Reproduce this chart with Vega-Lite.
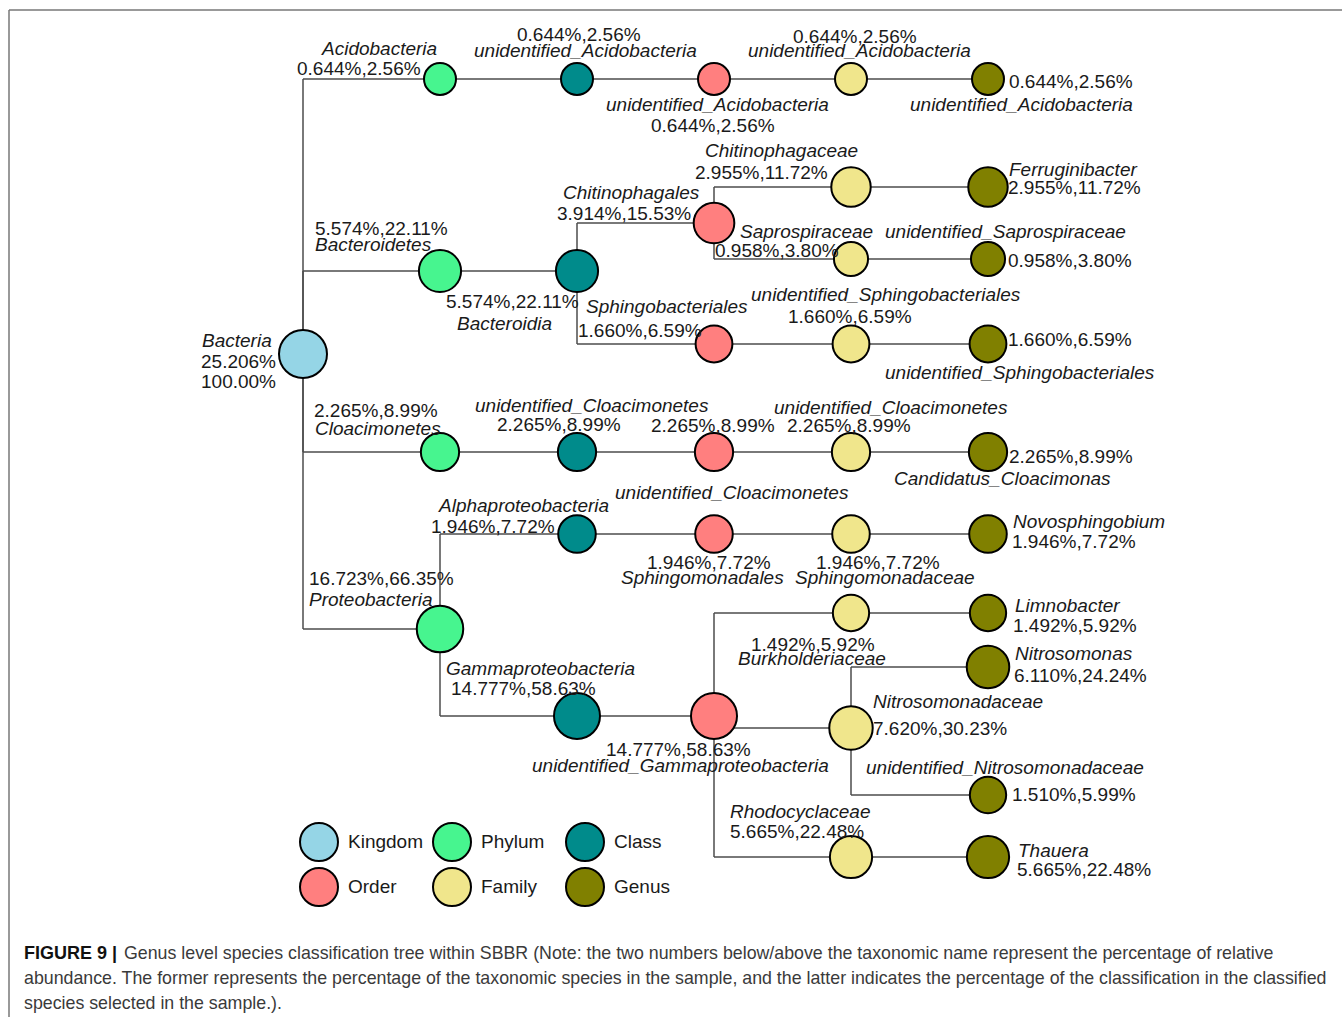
{
  "$schema": "https://vega.github.io/schema/vega-lite/v6.json",
  "width": 1342,
  "height": 1017,
  "padding": 0,
  "autosize": {"type": "none"},
  "background": "white",
  "config": {"view": {"stroke": null}, "font": "Liberation Sans"},
  "datasets": {
    "nodes": [
      {"id": "B", "name": "Bacteria", "rank": "Kingdom", "parent": null, "x": 303, "y": 354, "a": 25.206},
      {"id": "P1", "name": "Acidobacteria", "rank": "Phylum", "parent": "B", "x": 440, "y": 79, "a": 0.644},
      {"id": "C1", "name": "unidentified_Acidobacteria", "rank": "Class", "parent": "P1", "x": 577, "y": 79, "a": 0.644},
      {"id": "O1", "name": "unidentified_Acidobacteria", "rank": "Order", "parent": "C1", "x": 714, "y": 79, "a": 0.644},
      {"id": "F1", "name": "unidentified_Acidobacteria", "rank": "Family", "parent": "O1", "x": 851, "y": 79, "a": 0.644},
      {"id": "G1", "name": "unidentified_Acidobacteria", "rank": "Genus", "parent": "F1", "x": 988, "y": 79, "a": 0.644},
      {"id": "P2", "name": "Bacteroidetes", "rank": "Phylum", "parent": "B", "x": 440, "y": 271, "a": 5.574},
      {"id": "C2", "name": "Bacteroidia", "rank": "Class", "parent": "P2", "x": 577, "y": 271, "a": 5.574},
      {"id": "O2", "name": "Chitinophagales", "rank": "Order", "parent": "C2", "x": 714, "y": 223, "a": 3.914},
      {"id": "F2", "name": "Chitinophagaceae", "rank": "Family", "parent": "O2", "x": 851, "y": 187, "a": 2.955},
      {"id": "G2", "name": "Ferruginibacter", "rank": "Genus", "parent": "F2", "x": 988, "y": 187, "a": 2.955},
      {"id": "F3", "name": "Saprospiraceae", "rank": "Family", "parent": "O2", "x": 851, "y": 259, "a": 0.958},
      {"id": "G3", "name": "unidentified_Saprospiraceae", "rank": "Genus", "parent": "F3", "x": 988, "y": 259, "a": 0.958},
      {"id": "O3", "name": "Sphingobacteriales", "rank": "Order", "parent": "C2", "x": 714, "y": 344, "a": 1.66},
      {"id": "F4", "name": "unidentified_Sphingobacteriales", "rank": "Family", "parent": "O3", "x": 851, "y": 344, "a": 1.66},
      {"id": "G4", "name": "unidentified_Sphingobacteriales", "rank": "Genus", "parent": "F4", "x": 988, "y": 344, "a": 1.66},
      {"id": "P3", "name": "Cloacimonetes", "rank": "Phylum", "parent": "B", "x": 440, "y": 452, "a": 2.265},
      {"id": "C3", "name": "unidentified_Cloacimonetes", "rank": "Class", "parent": "P3", "x": 577, "y": 452, "a": 2.265},
      {"id": "O4", "name": "unidentified_Cloacimonetes", "rank": "Order", "parent": "C3", "x": 714, "y": 452, "a": 2.265},
      {"id": "F5", "name": "unidentified_Cloacimonetes", "rank": "Family", "parent": "O4", "x": 851, "y": 452, "a": 2.265},
      {"id": "G5", "name": "Candidatus_Cloacimonas", "rank": "Genus", "parent": "F5", "x": 988, "y": 452, "a": 2.265},
      {"id": "P4", "name": "Proteobacteria", "rank": "Phylum", "parent": "B", "x": 440, "y": 629, "a": 16.723},
      {"id": "C4", "name": "Alphaproteobacteria", "rank": "Class", "parent": "P4", "x": 577, "y": 534, "a": 1.946},
      {"id": "O5", "name": "Sphingomonadales", "rank": "Order", "parent": "C4", "x": 714, "y": 534, "a": 1.946},
      {"id": "F6", "name": "Sphingomonadaceae", "rank": "Family", "parent": "O5", "x": 851, "y": 534, "a": 1.946},
      {"id": "G6", "name": "Novosphingobium", "rank": "Genus", "parent": "F6", "x": 988, "y": 534, "a": 1.946},
      {"id": "C5", "name": "Gammaproteobacteria", "rank": "Class", "parent": "P4", "x": 577, "y": 716, "a": 14.777},
      {"id": "O6", "name": "unidentified_Gammaproteobacteria", "rank": "Order", "parent": "C5", "x": 714, "y": 716, "a": 14.777},
      {"id": "F7", "name": "Burkholderiaceae", "rank": "Family", "parent": "O6", "x": 851, "y": 613, "a": 1.492},
      {"id": "G7", "name": "Limnobacter", "rank": "Genus", "parent": "F7", "x": 988, "y": 613, "a": 1.492},
      {"id": "F8", "name": "Nitrosomonadaceae", "rank": "Family", "parent": "O6", "x": 851, "y": 728, "a": 7.62},
      {"id": "G8", "name": "Nitrosomonas", "rank": "Genus", "parent": "F8", "x": 988, "y": 667, "a": 6.11},
      {"id": "G9", "name": "unidentified_Nitrosomonadaceae", "rank": "Genus", "parent": "F8", "x": 988, "y": 795, "a": 1.51},
      {"id": "F9", "name": "Rhodocyclaceae", "rank": "Family", "parent": "O6", "x": 851, "y": 857, "a": 5.665},
      {"id": "G10", "name": "Thauera", "rank": "Genus", "parent": "F9", "x": 988, "y": 857, "a": 5.665}
    ],
    "labels": [
      {"k": "n", "t": "Bacteria", "x": 202, "y": 347},
      {"k": "v", "t": "25.206%", "x": 201, "y": 368},
      {"k": "v", "t": "100.00%", "x": 201, "y": 388},
      {"k": "n", "t": "Acidobacteria", "x": 322, "y": 55},
      {"k": "v", "t": "0.644%,2.56%", "x": 297, "y": 75},
      {"k": "v", "t": "0.644%,2.56%", "x": 517, "y": 41},
      {"k": "n", "t": "unidentified_Acidobacteria", "x": 474, "y": 57},
      {"k": "n", "t": "unidentified_Acidobacteria", "x": 606, "y": 111},
      {"k": "v", "t": "0.644%,2.56%", "x": 651, "y": 132},
      {"k": "v", "t": "0.644%,2.56%", "x": 793, "y": 43},
      {"k": "n", "t": "unidentified_Acidobacteria", "x": 748, "y": 57},
      {"k": "v", "t": "0.644%,2.56%", "x": 1009, "y": 88},
      {"k": "n", "t": "unidentified_Acidobacteria", "x": 910, "y": 111},
      {"k": "v", "t": "5.574%,22.11%", "x": 315, "y": 235},
      {"k": "n", "t": "Bacteroidetes", "x": 315, "y": 251},
      {"k": "v", "t": "5.574%,22.11%", "x": 446, "y": 308},
      {"k": "n", "t": "Bacteroidia", "x": 457, "y": 330},
      {"k": "n", "t": "Chitinophagales", "x": 563, "y": 199},
      {"k": "v", "t": "3.914%,15.53%", "x": 557, "y": 220},
      {"k": "n", "t": "Chitinophagaceae", "x": 705, "y": 157},
      {"k": "v", "t": "2.955%,11.72%", "x": 695, "y": 179},
      {"k": "n", "t": "Ferruginibacter", "x": 1009, "y": 176},
      {"k": "v", "t": "2.955%,11.72%", "x": 1008, "y": 194},
      {"k": "n", "t": "Saprospiraceae", "x": 740, "y": 238},
      {"k": "v", "t": "0.958%,3.80%", "x": 715, "y": 257},
      {"k": "n", "t": "unidentified_Saprospiraceae", "x": 885, "y": 238},
      {"k": "v", "t": "0.958%,3.80%", "x": 1008, "y": 267},
      {"k": "n", "t": "Sphingobacteriales", "x": 586, "y": 313},
      {"k": "v", "t": "1.660%,6.59%", "x": 578, "y": 337},
      {"k": "n", "t": "unidentified_Sphingobacteriales", "x": 751, "y": 301},
      {"k": "v", "t": "1.660%,6.59%", "x": 788, "y": 323},
      {"k": "v", "t": "1.660%,6.59%", "x": 1008, "y": 346},
      {"k": "n", "t": "unidentified_Sphingobacteriales", "x": 885, "y": 379},
      {"k": "v", "t": "2.265%,8.99%", "x": 314, "y": 417},
      {"k": "n", "t": "Cloacimonetes", "x": 315, "y": 435},
      {"k": "n", "t": "unidentified_Cloacimonetes", "x": 475, "y": 412},
      {"k": "v", "t": "2.265%,8.99%", "x": 497, "y": 431},
      {"k": "v", "t": "2.265%,8.99%", "x": 651, "y": 432},
      {"k": "n", "t": "unidentified_Cloacimonetes", "x": 615, "y": 499},
      {"k": "n", "t": "unidentified_Cloacimonetes", "x": 774, "y": 414},
      {"k": "v", "t": "2.265%,8.99%", "x": 787, "y": 432},
      {"k": "v", "t": "2.265%,8.99%", "x": 1009, "y": 463},
      {"k": "n", "t": "Candidatus_Cloacimonas", "x": 894, "y": 485},
      {"k": "v", "t": "16.723%,66.35%", "x": 309, "y": 585},
      {"k": "n", "t": "Proteobacteria", "x": 309, "y": 606},
      {"k": "n", "t": "Alphaproteobacteria", "x": 439, "y": 512},
      {"k": "v", "t": "1.946%,7.72%", "x": 431, "y": 533},
      {"k": "v", "t": "1.946%,7.72%", "x": 647, "y": 569},
      {"k": "n", "t": "Sphingomonadales", "x": 621, "y": 584},
      {"k": "v", "t": "1.946%,7.72%", "x": 816, "y": 569},
      {"k": "n", "t": "Sphingomonadaceae", "x": 795, "y": 584},
      {"k": "n", "t": "Novosphingobium", "x": 1013, "y": 528},
      {"k": "v", "t": "1.946%,7.72%", "x": 1012, "y": 548},
      {"k": "n", "t": "Gammaproteobacteria", "x": 446, "y": 675},
      {"k": "v", "t": "14.777%,58.63%", "x": 451, "y": 695},
      {"k": "v", "t": "14.777%,58.63%", "x": 606, "y": 756},
      {"k": "n", "t": "unidentified_Gammaproteobacteria", "x": 532, "y": 772},
      {"k": "v", "t": "1.492%,5.92%", "x": 751, "y": 651},
      {"k": "n", "t": "Burkholderiaceae", "x": 738, "y": 665},
      {"k": "n", "t": "Limnobacter", "x": 1015, "y": 612},
      {"k": "v", "t": "1.492%,5.92%", "x": 1013, "y": 632},
      {"k": "n", "t": "Nitrosomonadaceae", "x": 873, "y": 708},
      {"k": "v", "t": "7.620%,30.23%", "x": 873, "y": 735},
      {"k": "n", "t": "Nitrosomonas", "x": 1015, "y": 660},
      {"k": "v", "t": "6.110%,24.24%", "x": 1014, "y": 682},
      {"k": "n", "t": "unidentified_Nitrosomonadaceae", "x": 866, "y": 774},
      {"k": "v", "t": "1.510%,5.99%", "x": 1012, "y": 801},
      {"k": "n", "t": "Rhodocyclaceae", "x": 730, "y": 818},
      {"k": "v", "t": "5.665%,22.48%", "x": 730, "y": 838},
      {"k": "n", "t": "Thauera", "x": 1018, "y": 857},
      {"k": "v", "t": "5.665%,22.48%", "x": 1017, "y": 876}
    ],
    "caption": [
      {"k": "b", "t": "FIGURE 9 |", "x": 24, "y": 959},
      {"k": "r", "t": "Genus level species classification tree within SBBR (Note: the two numbers below/above the taxonomic name represent the percentage of relative", "x": 124, "y": 959},
      {"k": "r", "t": "abundance. The former represents the percentage of the taxonomic species in the sample, and the latter indicates the percentage of the classification in the classified", "x": 24, "y": 984},
      {"k": "r", "t": "species selected in the sample.).", "x": 24, "y": 1009}
    ],
    "frame": [
      {"x": 9, "y": 10, "x2": 1342, "y2": 10},
      {"x": 9, "y": 10, "x2": 9, "y2": 1017}
    ]
  },
  "layer": [
    {
      "data": {"name": "frame"},
      "mark": {"type": "rule", "color": "#777777", "strokeWidth": 1.5},
      "encoding": {
        "x": {"field": "x", "type": "quantitative", "scale": {"domain": [0, 1342], "nice": false, "zero": false}, "axis": null},
        "y": {"field": "y", "type": "quantitative", "scale": {"domain": [0, 1017], "reverse": true, "nice": false, "zero": false}, "axis": null},
        "x2": {"field": "x2"},
        "y2": {"field": "y2"}
      }
    },
    {
      "data": {"name": "nodes"},
      "transform": [
        {"lookup": "parent", "from": {"data": {"name": "nodes"}, "key": "id", "fields": ["x", "y"]}, "as": ["px", "py"]},
        {"filter": "isValid(datum.px)"}
      ],
      "mark": {"type": "rule", "color": "#4d4d4d", "strokeWidth": 1.5},
      "encoding": {
        "x": {"field": "px", "type": "quantitative", "scale": {"domain": [0, 1342], "nice": false, "zero": false}, "axis": null},
        "y": {"field": "py", "type": "quantitative", "scale": {"domain": [0, 1017], "reverse": true, "nice": false, "zero": false}, "axis": null},
        "y2": {"field": "y"}
      }
    },
    {
      "data": {"name": "nodes"},
      "transform": [
        {"lookup": "parent", "from": {"data": {"name": "nodes"}, "key": "id", "fields": ["x", "y"]}, "as": ["px", "py"]},
        {"filter": "isValid(datum.px)"}
      ],
      "mark": {"type": "rule", "color": "#4d4d4d", "strokeWidth": 1.5},
      "encoding": {
        "x": {"field": "px", "type": "quantitative", "scale": {"domain": [0, 1342], "nice": false, "zero": false}, "axis": null},
        "x2": {"field": "x"},
        "y": {"field": "y", "type": "quantitative", "scale": {"domain": [0, 1017], "reverse": true, "nice": false, "zero": false}, "axis": null}
      }
    },
    {
      "data": {"name": "nodes"},
      "mark": {"type": "point", "shape": "circle", "filled": true, "stroke": "black", "strokeWidth": 2, "opacity": 1},
      "encoding": {
        "x": {"field": "x", "type": "quantitative", "scale": {"domain": [0, 1342], "nice": false, "zero": false}, "axis": null},
        "y": {"field": "y", "type": "quantitative", "scale": {"domain": [0, 1017], "reverse": true, "nice": false, "zero": false}, "axis": null},
        "fill": {
          "field": "rank", "type": "nominal",
          "scale": {"domain": ["Kingdom", "Phylum", "Class", "Order", "Family", "Genus"], "range": ["#95d5e6", "#47f58f", "#008b8b", "#ff7f7f", "#f0e68c", "#808000"]},
          "legend": {
            "title": null, "orient": "none", "legendX": 299, "legendY": 822,
            "direction": "horizontal", "columns": 3, "gridAlign": "all",
            "symbolType": "circle", "symbolSize": 1444, "symbolStrokeColor": "black", "symbolStrokeWidth": 2, "symbolOpacity": 1,
            "labelFont": "Liberation Sans", "labelFontSize": 19, "labelColor": "#1a1a1a", "labelOffset": 9, "labelLimit": 300,
            "columnPadding": 6, "rowPadding": -1, "padding": 0
          }
        },
        "size": {"field": "a", "type": "quantitative", "scale": {"type": "log", "domain": [0.644, 25.206], "range": [1024, 2304]}, "legend": null}
      }
    },
    {
      "data": {"name": "labels"},
      "transform": [{"filter": "datum.k == 'n'"}],
      "mark": {"type": "text", "align": "left", "baseline": "alphabetic", "fontStyle": "italic", "fontSize": 19, "font": "Liberation Sans", "color": "#1a1a1a"},
      "encoding": {
        "x": {"field": "x", "type": "quantitative", "scale": {"domain": [0, 1342], "nice": false, "zero": false}, "axis": null},
        "y": {"field": "y", "type": "quantitative", "scale": {"domain": [0, 1017], "reverse": true, "nice": false, "zero": false}, "axis": null},
        "text": {"field": "t"}
      }
    },
    {
      "data": {"name": "labels"},
      "transform": [{"filter": "datum.k == 'v'"}],
      "mark": {"type": "text", "align": "left", "baseline": "alphabetic", "fontSize": 19, "font": "Liberation Sans", "color": "#1a1a1a"},
      "encoding": {
        "x": {"field": "x", "type": "quantitative", "scale": {"domain": [0, 1342], "nice": false, "zero": false}, "axis": null},
        "y": {"field": "y", "type": "quantitative", "scale": {"domain": [0, 1017], "reverse": true, "nice": false, "zero": false}, "axis": null},
        "text": {"field": "t"}
      }
    },
    {
      "data": {"name": "caption"},
      "transform": [{"filter": "datum.k == 'b'"}],
      "mark": {"type": "text", "align": "left", "baseline": "alphabetic", "fontSize": 18, "fontWeight": "bold", "font": "Liberation Sans", "color": "#111111"},
      "encoding": {
        "x": {"field": "x", "type": "quantitative", "scale": {"domain": [0, 1342], "nice": false, "zero": false}, "axis": null},
        "y": {"field": "y", "type": "quantitative", "scale": {"domain": [0, 1017], "reverse": true, "nice": false, "zero": false}, "axis": null},
        "text": {"field": "t"}
      }
    },
    {
      "data": {"name": "caption"},
      "transform": [{"filter": "datum.k == 'r'"}],
      "mark": {"type": "text", "align": "left", "baseline": "alphabetic", "fontSize": 17.8, "font": "Liberation Sans", "color": "#3a3a3a"},
      "encoding": {
        "x": {"field": "x", "type": "quantitative", "scale": {"domain": [0, 1342], "nice": false, "zero": false}, "axis": null},
        "y": {"field": "y", "type": "quantitative", "scale": {"domain": [0, 1017], "reverse": true, "nice": false, "zero": false}, "axis": null},
        "text": {"field": "t"}
      }
    }
  ]
}
